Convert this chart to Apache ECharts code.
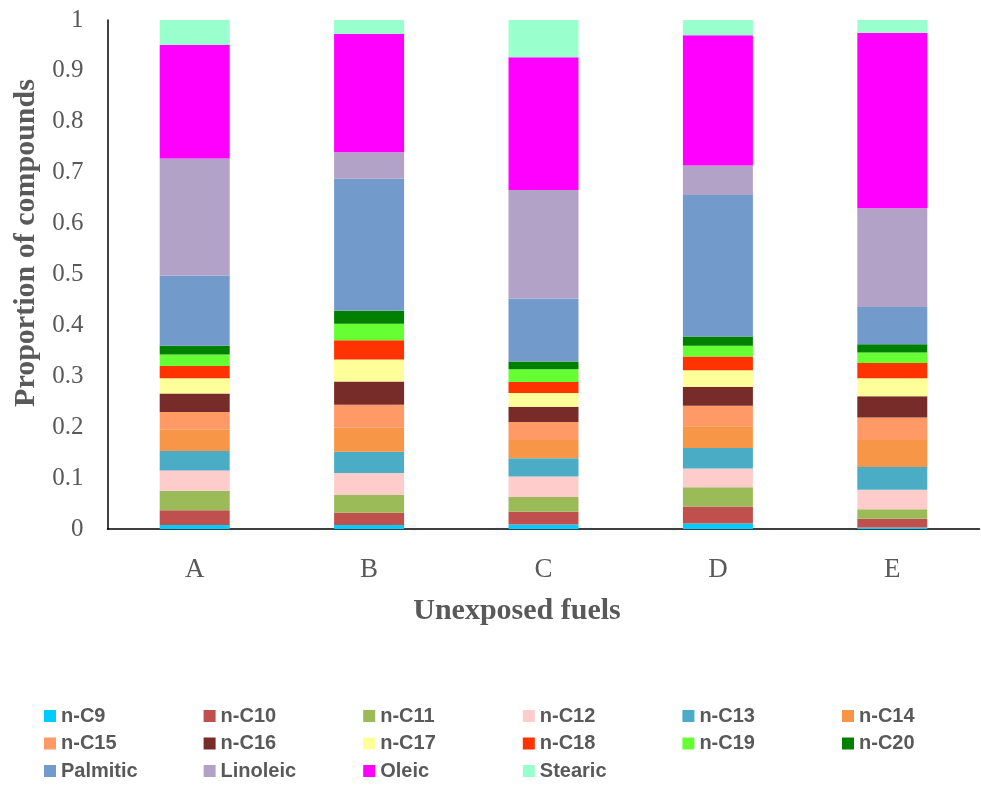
<!DOCTYPE html>
<html>
<head>
<meta charset="utf-8">
<script src="https://cdn.jsdelivr.net/npm/echarts@6/dist/echarts.min.js"></script>
<style>
html,body{margin:0;padding:0;background:#fff;}
#chart{width:981px;height:793px;}
</style>
</head>
<body>
<div id="chart"></div>
<script>
var categories = ['A', 'B', 'C', 'D', 'E'];
var seriesNames = ['n-C9','n-C10','n-C11','n-C12','n-C13','n-C14','n-C15','n-C16','n-C17','n-C18','n-C19','n-C20','Palmitic','Linoleic','Oleic','Stearic'];
var yTicks = [0, 0.1, 0.2, 0.3, 0.4, 0.5, 0.6, 0.7, 0.8, 0.9, 1];

var nC9      = [0.008, 0.008, 0.009, 0.011, 0.003];
var nC10     = [0.029, 0.024, 0.025, 0.033, 0.017];
var nC11     = [0.038, 0.035, 0.029, 0.038, 0.019];
var nC12     = [0.040, 0.043, 0.040, 0.037, 0.038];
var nC13     = [0.038, 0.042, 0.036, 0.040, 0.045];
var nC14     = [0.042, 0.047, 0.036, 0.043, 0.053];
var nC15     = [0.035, 0.045, 0.035, 0.040, 0.044];
var nC16     = [0.036, 0.046, 0.030, 0.037, 0.042];
var nC17     = [0.030, 0.043, 0.027, 0.033, 0.035];
var nC18     = [0.024, 0.038, 0.022, 0.027, 0.030];
var nC19     = [0.023, 0.032, 0.025, 0.021, 0.021];
var nC20     = [0.017, 0.026, 0.015, 0.018, 0.016];
var palmitic = [0.138, 0.259, 0.124, 0.278, 0.073];
var linoleic = [0.230, 0.052, 0.213, 0.058, 0.194];
var oleic    = [0.223, 0.2325, 0.261, 0.256, 0.345];
var stearic  = [0.049, 0.0275, 0.073, 0.030, 0.025];

var seriesValues = [nC9, nC10, nC11, nC12, nC13, nC14, nC15, nC16, nC17, nC18, nC19, nC20, palmitic, linoleic, oleic, stearic];
var colors = ['#00CCFF','#C0504D','#9BBB59','#FFCCCC','#4BACC6','#F79646','#FF9966','#772C2A','#FFFF99','#FF3300','#66FF33','#008000','#729ACA','#B2A2C7','#FF00FF','#99FFCC'];

var chart = echarts.init(document.getElementById('chart'), null, {renderer: 'canvas'});

var series = seriesNames.map(function (name, i) {
  return {
    name: name,
    type: 'bar',
    stack: 'total',
    barWidth: 70,
    data: seriesValues[i],
    itemStyle: { color: colors[i] },
    emphasis: { disabled: true }
  };
});

var legends = [];
for (var c = 0; c < 6; c++) {
  var items = [];
  for (var r = 0; r < 3; r++) {
    var idx = r * 6 + c;
    if (idx < seriesNames.length) items.push({ name: seriesNames[idx], icon: 'rect' });
  }
  legends.push({
    orient: 'vertical',
    left: 44 + c * 159.6,
    top: 706,
    itemWidth: 12,
    itemHeight: 12,
    itemGap: 7.5,
    padding: 0,
    selectedMode: false,
    data: items,
    textStyle: {
      fontFamily: 'Liberation Sans, Arial, sans-serif',
      fontWeight: 'bold',
      fontSize: 20,
      lineHeight: 20,
      color: '#595959',
      padding: [0, 0, 0, 0]
    }
  });
}

var option = {
  animation: false,
  backgroundColor: '#ffffff',
  color: colors,
  grid: { left: 107.5, top: 20, width: 872, height: 509, containLabel: false },
  legend: legends,
  xAxis: {
    type: 'category',
    data: categories,
    axisLine: { show: true, lineStyle: { color: '#000000', width: 1.5 } },
    axisTick: { show: false },
    axisLabel: {
      margin: 27,
      fontFamily: 'Liberation Serif, Times New Roman, serif',
      fontSize: 27,
      color: '#595959'
    },
    splitLine: { show: false }
  },
  yAxis: {
    type: 'value',
    min: yTicks[0],
    max: yTicks[yTicks.length - 1],
    interval: 0.1,
    axisLine: { show: true, lineStyle: { color: '#000000', width: 1.5 } },
    axisTick: { show: false },
    splitLine: { show: false },
    axisLabel: {
      margin: 24,
      fontFamily: 'Liberation Serif, Times New Roman, serif',
      fontSize: 25,
      color: '#595959',
      formatter: function (v) { return String(Math.round(v * 10) / 10); }
    }
  },
  graphic: [
    {
      type: 'text',
      x: 26,
      y: 243,
      rotation: Math.PI / 2,
      style: {
        text: 'Proportion of compounds',
        fontFamily: 'Liberation Serif, Times New Roman, serif',
        fontWeight: 'bold',
        fontSize: 30,
        fill: '#595959',
        align: 'center',
        verticalAlign: 'middle'
      }
    },
    {
      type: 'text',
      x: 517,
      y: 611,
      style: {
        text: 'Unexposed fuels',
        fontFamily: 'Liberation Serif, Times New Roman, serif',
        fontWeight: 'bold',
        fontSize: 30,
        fill: '#595959',
        align: 'center',
        verticalAlign: 'middle'
      }
    }
  ],
  series: series
};

chart.setOption(option);
</script>
</body>
</html>
